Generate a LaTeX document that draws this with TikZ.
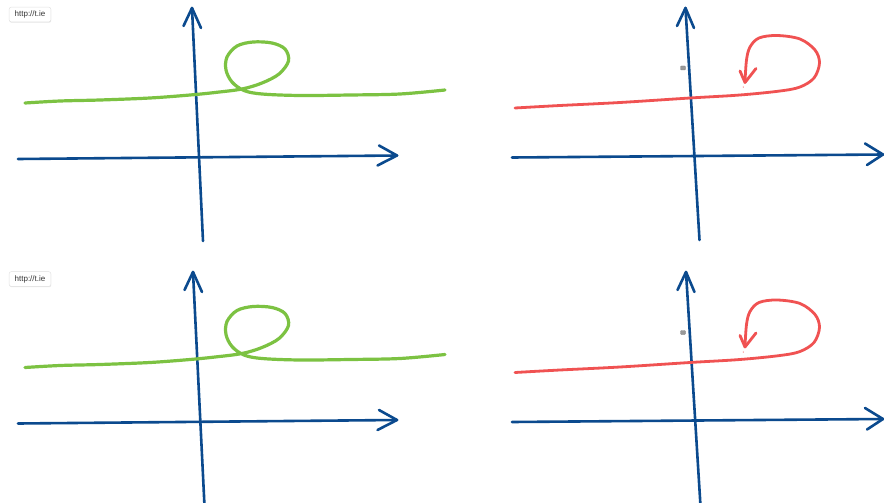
\documentclass[tikz,border=0pt]{standalone}
\usepackage{fontspec}
\setmainfont{Liberation Sans}
\usetikzlibrary{shadows}
\definecolor{axisblue}{HTML}{0B4A8E}
\definecolor{loopgreen}{HTML}{7CC242}
\definecolor{loopred}{HTML}{F05252}
\tikzset{
  axisline/.style={draw=axisblue, line width=2.6pt, line cap=round, line join=round},
  greenline/.style={draw=loopgreen, line width=3.2pt, line cap=round, line join=round},
  redline/.style={draw=loopred, line width=2.8pt, line cap=round, line join=round},
  urlbox/.style={draw=black!12, fill=white, rounded corners=2pt, inner xsep=5.5pt, inner ysep=3.6pt,
    font=\fontsize{8}{9}\selectfont, text=black!80, drop shadow={opacity=0.18, shadow xshift=0.4pt, shadow yshift=-0.9pt}},
  graybox/.style={fill=black!40, draw=black!50, rounded corners=0.8pt, minimum width=5pt, minimum height=4pt, inner sep=0pt},
  tinymark/.style={text=loopred, font=\fontsize{3}{3}\selectfont, inner sep=0pt}
}
\begin{document}
\begin{tikzpicture}[x=1pt,y=-1pt]
\useasboundingbox (0,0) rectangle (884,503);
\clip (0,0) rectangle (884,503);
\fill[white] (0,0) rectangle (884,503);

% ---------- vertical axes ----------
% top-left
\draw[axisline] (203,241) -- (192,8);
\draw[axisline] (183.5,26) -- (192,8) -- (201,28);
% top-right
\draw[axisline] (699.5,240) -- (685.5,8);
\draw[axisline] (677,26) -- (685.5,8) -- (694,28);
% bottom-left
\draw[axisline] (204.5,506) -- (193,272);
\draw[axisline] (184.5,290) -- (193,272) -- (202,292);
% bottom-right
\draw[axisline] (700.5,506) -- (686,272);
\draw[axisline] (677.5,290) -- (686,272) -- (694.5,292);

% ---------- repeated parts ----------
\foreach \dy in {0, 264.5} {
  \begin{scope}[yshift=-\dy pt]
    \node[urlbox] (url) at (30,14.5) {http://t.ie};
    % left horizontal axis
    \draw[axisline] (18,159) -- (397,155.5);
    \draw[axisline] (379,145.5) -- (397,155.5) -- (377.5,165.5);
    % green loop
    \draw[greenline] plot[smooth, tension=0.55] coordinates {
      (25,103) (60,101) (100,100) (150,98) (190,95) (215,92.5) (242,89)
      (262,83) (279,74) (288.5,61) (285,49) (272,43) (253,42) (237,46)
      (227,57) (226,70) (232,82) (244,90.5) (262,94) (300,95.5) (350,95)
      (400,94) (445,90)};
    % right horizontal axis
    \draw[axisline] (512,157.5) -- (883,154.5);
    \draw[axisline] (865,143.5) -- (883,154.5) -- (867,165);
    % red loop
    \draw[redline] plot[smooth, tension=0.55] coordinates {
      (515,108) (560,105.5) (620,102.5) (690,98) (740,95) (780,91)
      (800,87) (814,78) (819.5,63) (815,50) (800,39) (777,35.5) (759,38)
      (750,47) (746.5,60) (745,82)};
    \draw[redline] (740,71) -- (745,82.5) -- (756,68.5);
    \node[tinymark] (mark) at (743.5,87.5) {1};
    \node[graybox] (gray) at (683,68) {};
  \end{scope}
}
\end{tikzpicture}
\end{document}
